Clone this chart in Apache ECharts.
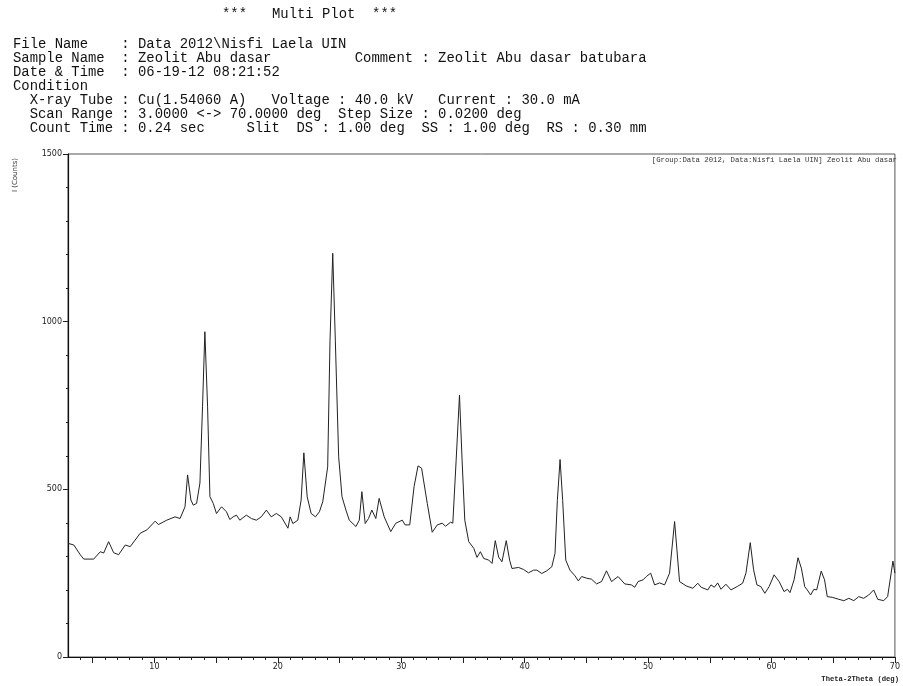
<!DOCTYPE html>
<html>
<head>
<meta charset="utf-8">
<script src="https://cdn.jsdelivr.net/npm/echarts@6/dist/echarts.min.js"></script>
<style>html,body{margin:0;padding:0;background:#fff;}#c{width:903px;height:686px;}</style>
</head>
<body>
<div id="c"></div>
<script>
var twoTheta = [3.0,3.47,4.01,4.28,5.08,5.62,5.89,6.29,6.70,7.10,7.64,8.04,8.85,9.39,10.06,10.33,11.0,11.67,12.08,12.48,12.69,12.96,13.15,13.42,13.69,13.90,14.09,14.31,14.50,14.77,15.03,15.44,15.84,16.11,16.38,16.65,16.92,17.45,17.86,18.26,18.66,19.07,19.47,19.88,20.28,20.82,21.0,21.22,21.62,21.89,22.11,22.38,22.70,23.05,23.37,23.64,23.77,24.04,24.23,24.45,24.66,24.93,25.20,25.52,25.79,26.33,26.60,26.81,27.08,27.35,27.62,27.94,28.21,28.62,29.15,29.56,30.09,30.31,30.69,31.04,31.36,31.65,32.11,32.51,32.92,33.32,33.59,34.0,34.18,34.45,34.72,34.93,35.15,35.47,35.88,36.14,36.41,36.68,37.09,37.36,37.62,37.89,38.16,38.51,38.78,38.97,39.51,39.91,40.31,40.72,40.99,41.39,41.79,42.20,42.46,42.65,42.87,43.08,43.33,43.67,44.08,44.35,44.62,45.02,45.42,45.83,46.23,46.63,47.04,47.57,48.11,48.65,48.92,49.19,49.59,49.86,50.21,50.53,50.94,51.34,51.74,52.15,52.55,53.09,53.63,54.03,54.30,54.84,55.10,55.37,55.64,55.91,56.31,56.72,57.26,57.66,57.93,58.28,58.55,58.82,59.14,59.46,59.81,60.21,60.62,61.02,61.29,61.50,61.83,62.15,62.42,62.69,62.90,63.17,63.44,63.66,64.03,64.30,64.52,64.92,65.46,65.86,66.27,66.67,67.07,67.47,67.88,68.28,68.61,69.09,69.41,69.84,70.0];
var counts = [339,334,304,292,292,314,310,344,311,305,334,329,369,379,405,395,408,418,413,448,543,468,453,458,519,746,970,746,478,458,428,448,433,410,418,423,408,423,413,408,418,438,418,428,418,384,418,398,408,468,609,478,428,418,433,463,458,567,945,1204,945,597,478,438,408,389,408,493,398,413,438,413,473,418,374,399,408,394,394,508,570,563,458,372,394,399,390,402,399,587,781,587,408,344,324,297,314,294,289,279,347,298,284,347,289,264,267,261,251,259,259,249,257,269,309,467,589,467,289,259,242,227,240,235,232,218,225,257,225,240,218,215,208,225,230,240,250,215,221,215,250,404,225,212,205,220,208,200,215,208,221,202,217,200,211,220,250,341,260,215,210,190,210,245,225,195,202,192,230,296,265,210,200,185,202,200,256,230,180,178,172,168,175,168,180,175,185,200,172,168,180,286,250];
var xLabelValues = [10,20,30,40,50,60,70];
var yLabelValues = [0,500,1000,1500];

var headerLines = [
  "File Name    : Data 2012\\Nisfi Laela UIN",
  "Sample Name  : Zeolit Abu dasar          Comment : Zeolit Abu dasar batubara",
  "Date & Time  : 06-19-12 08:21:52",
  "Condition",
  "  X-ray Tube : Cu(1.54060 A)   Voltage : 40.0 kV   Current : 30.0 mA",
  "  Scan Range : 3.0000 <-> 70.0000 deg  Step Size : 0.0200 deg",
  "  Count Time : 0.24 sec     Slit  DS : 1.00 deg  SS : 1.00 deg  RS : 0.30 mm"
];
var titleText = "***   Multi Plot  ***";
var legendText = "[Group:Data 2012, Data:Nisfi Laela UIN] Zeolit Abu dasar";

var minorX = [], majorX = [], minorY = [];
for (var i = 4; i <= 70; i++) minorX.push(i);
for (var j = 5; j <= 70; j += 5) majorX.push(j);
for (var k = 0; k <= 1500; k += 100) minorY.push(k);

var data = twoTheta.map(function (t, i) { return [t, counts[i]]; });

var mono = "'Liberation Mono', 'DejaVu Sans Mono', monospace";
var hdrFont = '13.9px ' + mono;
var graphics = [];
graphics.push({ type: 'text', left: 222, top: 7, style: { text: titleText, font: hdrFont, fill: '#111' } });
var ys = [37, 51, 65, 79, 93, 107, 121];
headerLines.forEach(function (s, i) {
  graphics.push({ type: 'text', left: 13, top: ys[i], style: { text: s, font: hdrFont, fill: '#111' } });
});
graphics.push({ type: 'text', x: 15, y: 175, rotation: Math.PI / 2,
  style: { text: 'I (Counts)', font: '7px ' + "'DejaVu Sans', sans-serif", fill: '#333', align: 'center', verticalAlign: 'middle' } });
graphics.push({ type: 'text', x: 897, y: 160,
  style: { text: legendText, font: '7.3px ' + mono, fill: '#333', align: 'right', verticalAlign: 'middle' } });
graphics.push({ type: 'text', x: 899, y: 679,
  style: { text: 'Theta-2Theta (deg)', font: 'bold 7.2px ' + mono, fill: '#222', align: 'right', verticalAlign: 'middle' } });

var chart = echarts.init(document.getElementById('c'));
chart.setOption({
  animation: false,
  backgroundColor: '#fff',
  grid: { left: 68, right: 5, top: 154, bottom: 29, show: true, borderColor: '#555', borderWidth: 1 },
  xAxis: [{
    type: 'value', min: 3, max: 70,
    axisLine: { show: true, lineStyle: { color: '#111', width: 1.2 } },
    axisTick: { show: true, length: 3, customValues: minorX, lineStyle: { color: '#222' } },
    axisLabel: { customValues: xLabelValues, margin: 6, fontSize: 8, color: '#222', fontFamily: "'DejaVu Sans', sans-serif",
      formatter: function (v) { return String(v); } },
    splitLine: { show: false }
  }, {
    type: 'value', min: 3, max: 70, position: 'bottom',
    axisLine: { show: false },
    axisTick: { show: true, length: 6, customValues: majorX, lineStyle: { color: '#222' } },
    axisLabel: { show: false },
    splitLine: { show: false }
  }],
  yAxis: [{
    type: 'value', min: 0, max: 1500,
    axisLine: { show: true, lineStyle: { color: '#111', width: 1.2 } },
    axisTick: { show: true, length: 2, customValues: minorY, lineStyle: { color: '#222' } },
    axisLabel: { customValues: yLabelValues, margin: 6, fontSize: 8, color: '#222', fontFamily: "'DejaVu Sans', sans-serif",
      formatter: function (v) { return String(v); } },
    splitLine: { show: false }
  }, {
    type: 'value', min: 0, max: 1500, position: 'left',
    axisLine: { show: false },
    axisTick: { show: true, length: 5, customValues: yLabelValues, lineStyle: { color: '#222' } },
    axisLabel: { show: false },
    splitLine: { show: false }
  }],
  series: [{
    type: 'line', data: data, xAxisIndex: 0, yAxisIndex: 0,
    showSymbol: false, lineStyle: { color: '#222', width: 1 }
  }],
  graphic: graphics
});
</script>
</body>
</html>
